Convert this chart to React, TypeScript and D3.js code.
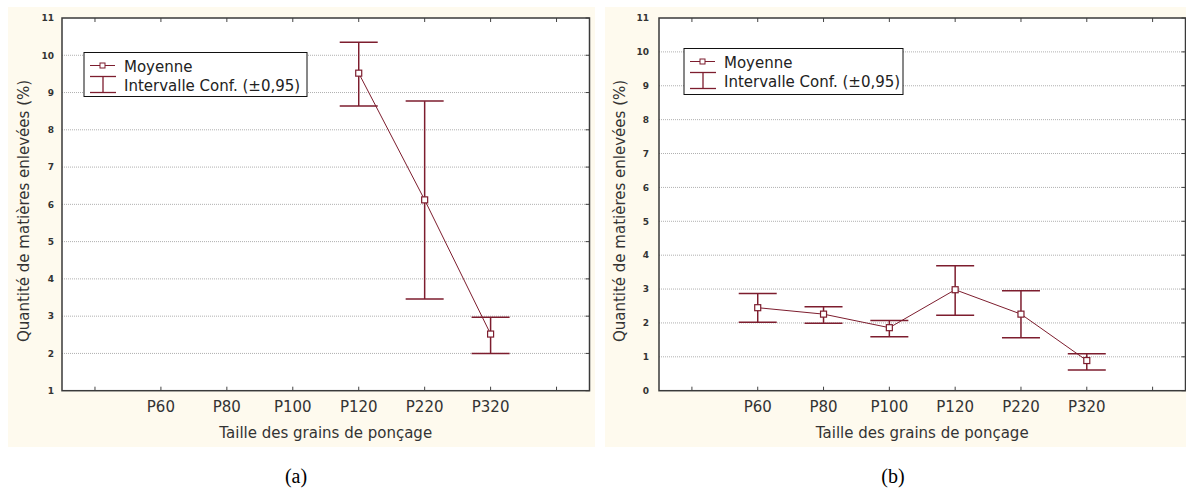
import React, { useEffect, useRef } from "react";
import * as d3 from "d3";

// x slots: first and last are empty positions on the axis
const xSlots = ["", "P60", "P80", "P100", "P120", "P220", "P320", ""];

// panel (a)
const catsA = ["P120", "P220", "P320"];
const meanA = [9.52, 6.12, 2.52];
const upperA = [10.35, 8.77, 2.97];
const lowerA = [8.64, 3.46, 2.0];
const yTicksA = [1, 2, 3, 4, 5, 6, 7, 8, 9, 10, 11];

// panel (b)
const catsB = ["P60", "P80", "P100", "P120", "P220", "P320"];
const meanB = [2.45, 2.26, 1.86, 2.98, 2.26, 0.89];
const upperB = [2.87, 2.48, 2.07, 3.69, 2.95, 1.09];
const lowerB = [2.02, 1.99, 1.59, 2.23, 1.56, 0.61];
const yTicksB = [0, 1, 2, 3, 4, 5, 6, 7, 8, 9, 10, 11];

const xTitle = "Taille des grains de ponçage";
const yTitle = "Quantité de matières enlevées (%)";
const legendLabels = ["Moyenne", "Intervalle Conf. (±0,95)"];

const RED = "#7d1d2e";
const FONT = "'DejaVu Sans', Verdana, sans-serif";
const TEXT = "#333";

interface Panel {
  cats: string[];
  mean: number[];
  upper: number[];
  lower: number[];
  yTicks: number[];
  bg: [number, number];
  left: number;
  right: number;
  yLabelX: number;
  yTitleX: number;
  legend: { x: number; y: number; w: number; h: number };
  caption: string;
  captionX: number;
}

const panels: Panel[] = [
  {
    cats: catsA, mean: meanA, upper: upperA, lower: lowerA, yTicks: yTicksA,
    bg: [8, 595], left: 62, right: 589.5, yLabelX: 54, yTitleX: 24,
    legend: { x: 84, y: 52.5, w: 223, h: 44 },
    caption: "(a)", captionX: 296,
  },
  {
    cats: catsB, mean: meanB, upper: upperB, lower: lowerB, yTicks: yTicksB,
    bg: [605, 1186], left: 659, right: 1185.5, yLabelX: 649, yTitleX: 620,
    legend: { x: 684, y: 48.5, w: 219, h: 46 },
    caption: "(b)", captionX: 893,
  },
];

const App: React.FC = () => {
  const svgRef = useRef<SVGSVGElement | null>(null);

  useEffect(() => {
    const svg = d3.select(svgRef.current);
    svg.selectAll("*").remove();

    const top = 18;
    const bottom = 390.7;

    panels.forEach((p) => {
      const g = svg.append("g");

      g.append("rect")
        .attr("x", p.bg[0])
        .attr("y", 7)
        .attr("width", p.bg[1] - p.bg[0])
        .attr("height", 440)
        .attr("fill", "#fefaee");

      g.append("rect")
        .attr("x", p.left)
        .attr("y", top)
        .attr("width", p.right - p.left)
        .attr("height", bottom - top)
        .attr("fill", "#fff");

      const x = d3
        .scaleBand<number>()
        .domain(d3.range(xSlots.length))
        .range([p.left, p.right]);
      const xc = (c: string) => x(xSlots.indexOf(c))! + x.bandwidth() / 2;

      const y = d3
        .scaleLinear()
        .domain([p.yTicks[0], p.yTicks[p.yTicks.length - 1]])
        .range([bottom, top]);

      // grid
      g.selectAll("line.grid")
        .data(p.yTicks.slice(1, -1))
        .enter()
        .append("line")
        .attr("x1", p.left)
        .attr("x2", p.right)
        .attr("y1", (d) => y(d))
        .attr("y2", (d) => y(d))
        .attr("stroke", "#b0b0b0")
        .attr("stroke-width", 1)
        .attr("stroke-dasharray", "1,1");

      // right ticks
      g.selectAll("line.rt")
        .data(p.yTicks)
        .enter()
        .append("line")
        .attr("x1", p.right - 4)
        .attr("x2", p.right)
        .attr("y1", (d) => y(d))
        .attr("y2", (d) => y(d))
        .attr("stroke", "#444");

      // y labels
      g.selectAll("text.yl")
        .data(p.yTicks)
        .enter()
        .append("text")
        .attr("x", p.yLabelX)
        .attr("y", (d) => y(d) + 3.3)
        .attr("text-anchor", "end")
        .style("font-family", FONT)
        .style("font-size", "9px")
        .style("font-weight", "bold")
        .style("fill", "#333")
        .text((d) => d);

      // x ticks top and bottom, inward
      const slotIdx = d3.range(xSlots.length);
      g.selectAll("line.bt")
        .data(slotIdx)
        .enter()
        .append("line")
        .attr("x1", (d) => x(d)! + x.bandwidth() / 2)
        .attr("x2", (d) => x(d)! + x.bandwidth() / 2)
        .attr("y1", bottom)
        .attr("y2", bottom - 4)
        .attr("stroke", "#444");
      g.selectAll("line.tt")
        .data(slotIdx)
        .enter()
        .append("line")
        .attr("x1", (d) => x(d)! + x.bandwidth() / 2)
        .attr("x2", (d) => x(d)! + x.bandwidth() / 2)
        .attr("y1", top)
        .attr("y2", top + 4)
        .attr("stroke", "#444");

      g.selectAll("text.xl")
        .data(slotIdx)
        .enter()
        .append("text")
        .attr("x", (d) => x(d)! + x.bandwidth() / 2)
        .attr("y", 412)
        .attr("text-anchor", "middle")
        .style("font-family", FONT)
        .style("font-size", "15px")
        .style("fill", TEXT)
        .text((d) => xSlots[d]);

      // frame
      g.append("rect")
        .attr("x", p.left)
        .attr("y", top)
        .attr("width", p.right - p.left)
        .attr("height", bottom - top)
        .attr("fill", "none")
        .attr("stroke", "#3a3a3a")
        .attr("stroke-width", 1.5);

      // titles
      g.append("text")
        .attr("x", (p.left + p.right) / 2)
        .attr("y", 438)
        .attr("text-anchor", "middle")
        .style("font-family", FONT)
        .style("font-size", "15px")
        .style("fill", TEXT)
        .text(xTitle);
      g.append("text")
        .attr("transform", `translate(${p.yTitleX + 5},211) rotate(-90)`)
        .attr("text-anchor", "middle")
        .style("font-family", FONT)
        .style("font-size", "15px")
        .style("fill", TEXT)
        .text(yTitle);

      // error bars
      const capW = 19;
      p.cats.forEach((c, i) => {
        const cx = xc(c);
        g.append("line")
          .attr("x1", cx).attr("x2", cx)
          .attr("y1", y(p.upper[i])).attr("y2", y(p.lower[i]))
          .attr("stroke", RED).attr("stroke-width", 1.5);
        [p.upper[i], p.lower[i]].forEach((v) => {
          g.append("line")
            .attr("x1", cx - capW).attr("x2", cx + capW)
            .attr("y1", y(v)).attr("y2", y(v))
            .attr("stroke", RED).attr("stroke-width", 1.5);
        });
      });

      // mean line
      const line = d3
        .line<number>()
        .x((_, i) => xc(p.cats[i]))
        .y((d) => y(d));
      g.append("path")
        .attr("d", line(p.mean))
        .attr("fill", "none")
        .attr("stroke", RED)
        .attr("stroke-width", 1);

      g.selectAll("rect.mk")
        .data(p.mean)
        .enter()
        .append("rect")
        .attr("x", (_, i) => xc(p.cats[i]) - 3)
        .attr("y", (d) => y(d) - 3)
        .attr("width", 6)
        .attr("height", 6)
        .attr("fill", "#fff")
        .attr("stroke", RED)
        .attr("stroke-width", 1.2);

      // legend
      const L = p.legend;
      const lg = g.append("g").attr("transform", `translate(${L.x},${L.y})`);
      lg.append("rect")
        .attr("width", L.w)
        .attr("height", L.h)
        .attr("fill", "#fff")
        .attr("stroke", "#111")
        .attr("stroke-width", 1);
      lg.append("line")
        .attr("x1", 6).attr("x2", 31).attr("y1", 13).attr("y2", 13)
        .attr("stroke", RED);
      lg.append("rect")
        .attr("x", 16).attr("y", 10.5).attr("width", 5).attr("height", 5)
        .attr("fill", "#fff").attr("stroke", RED);
      lg.append("line")
        .attr("x1", 6).attr("x2", 32).attr("y1", 24).attr("y2", 24)
        .attr("stroke", RED).attr("stroke-width", 1.3);
      lg.append("line")
        .attr("x1", 6).attr("x2", 32).attr("y1", 40).attr("y2", 40)
        .attr("stroke", RED).attr("stroke-width", 1.3);
      lg.append("line")
        .attr("x1", 19).attr("x2", 19).attr("y1", 24).attr("y2", 40)
        .attr("stroke", RED).attr("stroke-width", 1.3);
      legendLabels.forEach((t, i) => {
        lg.append("text")
          .attr("x", 40)
          .attr("y", 19 + i * 19)
          .style("font-family", FONT)
          .style("font-size", "15px")
          .style("fill", "#222")
          .text(t);
      });

      // caption
      svg.append("text")
        .attr("x", p.captionX)
        .attr("y", 483)
        .attr("text-anchor", "middle")
        .style("font-family", "'Liberation Serif', 'DejaVu Serif', serif")
        .style("font-size", "20px")
        .style("fill", "#000")
        .text(p.caption);
    });
  }, []);

  return (
    <svg
      ref={svgRef}
      width={1186}
      height={493}
      style={{ position: "absolute", left: 0, top: 0, background: "#fff" }}
    />
  );
};

export default App;
